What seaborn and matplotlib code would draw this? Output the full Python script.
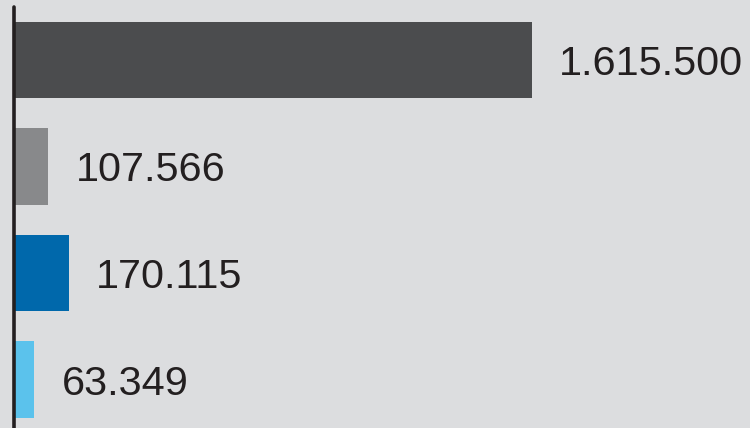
import matplotlib
matplotlib.use('Agg')
import matplotlib.pyplot as plt
import pandas as pd
import seaborn as sns

# values
categories = ['A', 'B', 'C', 'D']
values = [1615500, 107566, 170115, 63349]
colors = ['#4b4c4e', '#88898b', '#0068ab', '#5bc2ec']

bg = '#dcdddf'
ink = '#231f20'

df = pd.DataFrame({'cat': categories, 'val': values})

sns.set_style('white')
plt.rcParams['font.family'] = ['Liberation Sans', 'DejaVu Sans']

fig = plt.figure(figsize=(7.5, 4.28), dpi=100, facecolor=bg)
ax = fig.add_axes([0, 0, 1, 1])
ax.set_facecolor(bg)

sns.barplot(data=df, x='val', y='cat', hue='cat', palette=colors,
            orient='h', width=0.72, legend=False, ax=ax, saturation=1,
            edgecolor='none', linewidth=0)

# px scale: 518 px for the largest bar, zero at x=14
scale = 518 / values[0]
ax.set_xlim(-14 / scale, (750 - 14) / scale)
ax.set_ylim(3.455, -0.563)

ax.axvline(0, ymin=0, ymax=1 - 7 / 428, color=ink, lw=2.6, zorder=5)

for i, v in enumerate(values):
    ax.annotate(f'{v:,}'.replace(',', '.'), xy=(v, i),
                xytext=(19.5, -10.8), textcoords='offset points',
                va='baseline', ha='left', fontsize=29.8, color=ink)

ax.set_axis_off()
fig.savefig('out.png', dpi=100, facecolor=bg)
